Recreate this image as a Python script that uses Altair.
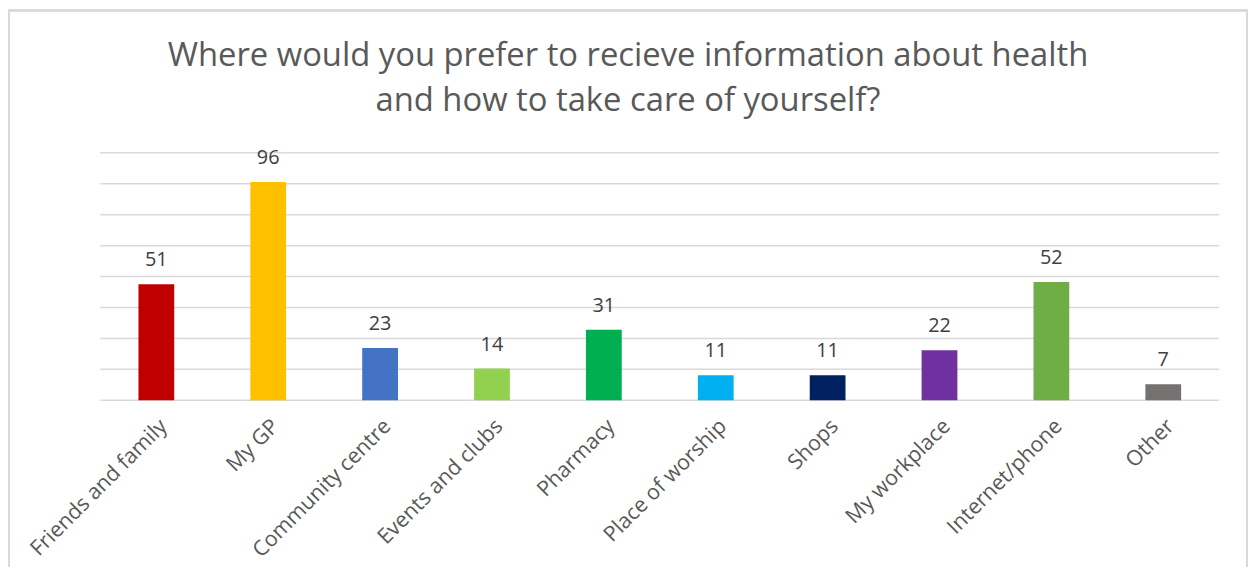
import altair as alt
import pandas as pd

categories = ["Friends and family", "My GP", "Community centre", "Events and clubs",
              "Pharmacy", "Place of worship", "Shops", "My workplace",
              "Internet/phone", "Other"]
values = [51, 96, 23, 14, 31, 11, 11, 22, 52, 7]
colors = ["#C00000", "#FFC000", "#4472C4", "#92D050", "#00B050",
          "#00B0F0", "#002060", "#7030A0", "#70AD47", "#767171"]

title_lines = ["Where would you prefer to recieve information about health",
               "and how to take care of yourself?"]

Y_MAX = 108.8
GRID_STEP = Y_MAX / 8
grid_values = [GRID_STEP * i for i in range(9)]

df = pd.DataFrame({"category": categories, "value": values, "color": colors})
grid_df = pd.DataFrame({"g": grid_values})

W, H = 1126, 249

y_scale = alt.Scale(domain=[0, Y_MAX], nice=False, zero=True)

x_enc = alt.X("category:N", sort=categories, title=None,
              scale=alt.Scale(paddingInner=0.68, paddingOuter=0.34),
              axis=alt.Axis(labelAngle=-45, labelFontSize=21.5, labelColor="#595959",
                            labelFont="Open Sans", domain=False, ticks=False,
                            labelPadding=15, grid=False, labelLimit=400))
y_enc = alt.Y("value:Q", title=None, scale=y_scale, axis=None)

grid = alt.Chart(grid_df).mark_rule(color="#D9D9D9", strokeWidth=1.5).encode(
    y=alt.Y("g:Q", scale=y_scale, axis=None),
    x=alt.value(0), x2=alt.value(W),
)

bars = alt.Chart(df).mark_bar(size=36).encode(
    x=x_enc, y=y_enc,
    color=alt.Color("color:N", scale=None),
)

labels = alt.Chart(df).mark_text(baseline="alphabetic", dy=-18, fontSize=20,
                                 font="Open Sans", color="#404040").encode(
    x=alt.X("category:N", sort=categories),
    y=alt.Y("value:Q", scale=y_scale, axis=None),
    text=alt.Text("value:Q"),
)

frame = alt.Chart(df).mark_rect(fill="transparent", stroke="#D9D9D9", strokeWidth=1.5).encode(
    x=alt.value(-92.5), x2=alt.value(1154), y=alt.value(-143.2), y2=alt.value(440)
)

chart = alt.layer(frame, grid, bars, labels).properties(
    width=W, height=H,
    background="white",
    title=alt.TitleParams(title_lines, anchor="middle", fontSize=33, font="Open Sans",
                          fontWeight="normal", color="#595959", lineHeight=45,
                          offset=-109, dx=-32),
    autosize=alt.AutoSizeParams(type="none"),
    padding={"left": 93, "top": 144, "right": 30, "bottom": 166},
).configure_view(stroke="transparent", strokeWidth=0)

chart.save("out.html", embed_options={"renderer": "svg", "actions": False})
